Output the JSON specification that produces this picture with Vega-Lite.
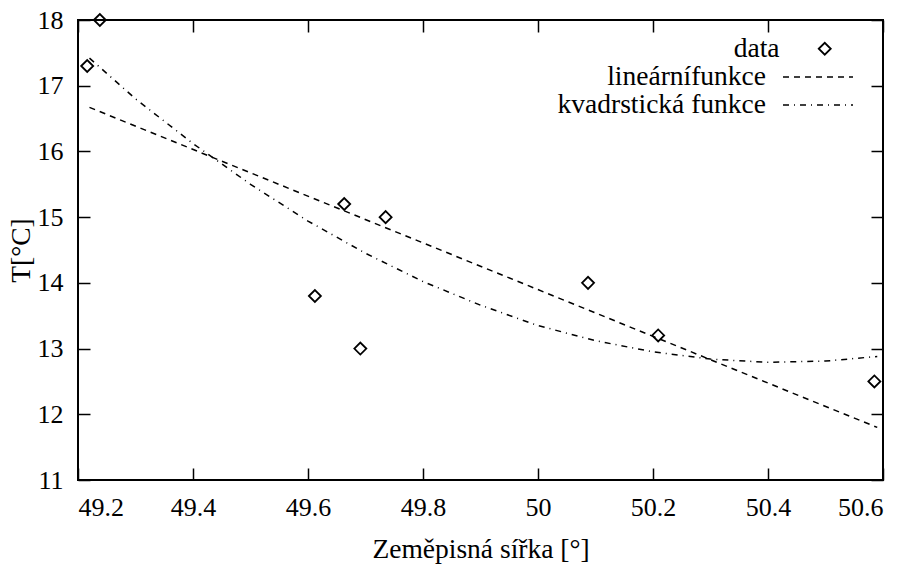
{
  "$schema": "https://vega.github.io/schema/vega-lite/v6.json",
  "width": 805,
  "height": 460,
  "autosize": {"type": "none"},
  "padding": {"left": 78, "top": 20, "right": 23, "bottom": 85},
  "background": "white",
  "config": {
    "font": "Liberation Serif",
    "view": {"stroke": "black", "strokeWidth": 2},
    "axis": {
      "domain": false,
      "grid": false,
      "ticks": true,
      "tickColor": "black",
      "tickWidth": 1.5,
      "tickSize": 12,
      "offset": -12,
      "labelFont": "Liberation Serif",
      "labelFontSize": 26,
      "labelColor": "black",
      "titleFont": "Liberation Serif",
      "titleFontSize": 27.5,
      "titleFontWeight": "normal",
      "titleColor": "black"
    },
    "legend": {
      "labelFont": "Liberation Serif",
      "labelFontSize": 27.5,
      "labelColor": "black",
      "labelLimit": 0
    }
  },
  "datasets": {
    "points": [
      {"lat": 49.216, "t": 17.3},
      {"lat": 49.238, "t": 18.0},
      {"lat": 49.612, "t": 13.8},
      {"lat": 49.663, "t": 15.2},
      {"lat": 49.691, "t": 13.0},
      {"lat": 49.735, "t": 15.0},
      {"lat": 50.087, "t": 14.0},
      {"lat": 50.209, "t": 13.2},
      {"lat": 50.585, "t": 12.5}
    ],
    "fits": [
      {"fn": "lineárnífunkce", "lat": 49.22, "t": 16.67},
      {"fn": "lineárnífunkce", "lat": 50.59, "t": 11.8},
      {"fn": "kvadrstická funkce", "lat": 49.22, "t": 17.42},
      {"fn": "kvadrstická funkce", "lat": 49.30, "t": 16.80},
      {"fn": "kvadrstická funkce", "lat": 49.40, "t": 16.12},
      {"fn": "kvadrstická funkce", "lat": 49.50, "t": 15.50},
      {"fn": "kvadrstická funkce", "lat": 49.60, "t": 14.94},
      {"fn": "kvadrstická funkce", "lat": 49.70, "t": 14.45},
      {"fn": "kvadrstická funkce", "lat": 49.80, "t": 14.02},
      {"fn": "kvadrstická funkce", "lat": 49.90, "t": 13.66},
      {"fn": "kvadrstická funkce", "lat": 50.00, "t": 13.35},
      {"fn": "kvadrstická funkce", "lat": 50.10, "t": 13.12},
      {"fn": "kvadrstická funkce", "lat": 50.20, "t": 12.95},
      {"fn": "kvadrstická funkce", "lat": 50.30, "t": 12.84},
      {"fn": "kvadrstická funkce", "lat": 50.40, "t": 12.79},
      {"fn": "kvadrstická funkce", "lat": 50.50, "t": 12.81},
      {"fn": "kvadrstická funkce", "lat": 50.59, "t": 12.88}
    ]
  },
  "layer": [
    {
      "data": {"name": "fits"},
      "transform": [{"filter": "datum.fn === 'lineárnífunkce'"}],
      "mark": {"type": "line", "color": "black", "strokeWidth": 1.5},
      "encoding": {
        "x": {
          "field": "lat", "type": "quantitative",
          "scale": {"domain": [49.2, 50.6], "nice": false, "zero": false},
          "axis": {
            "orient": "bottom",
            "values": [49.2, 49.4, 49.6, 49.8, 50, 50.2, 50.4, 50.6],
            "format": "~g",
            "tickSize": 0,
            "offset": 0,
            "labelPadding": 14,
            "title": "Zeměpisná sířka [°]",
            "titlePadding": 15
          }
        },
        "y": {
          "field": "t", "type": "quantitative",
          "scale": {"domain": [11, 18], "nice": false, "zero": false},
          "axis": {
            "orient": "left",
            "values": [11, 12, 13, 14, 15, 16, 17, 18],
            "format": "~g",
            "tickSize": 0,
            "offset": 0,
            "labelPadding": 15,
            "title": "T[°C]",
            "titlePadding": 2
          }
        },
        "strokeDash": {
          "datum": "lineárnífunkce",
          "scale": {"domain": ["lineárnífunkce"], "range": [[6, 5]]},
          "legend": {
            "orient": "none",
            "legendX": 704,
            "legendY": 21,
            "title": null,
            "padding": 0,
            "symbolType": "stroke",
            "symbolSize": 4900,
            "symbolStrokeWidth": 1.5,
            "symbolStrokeColor": "black",
            "labelAlign": "right",
            "labelOffset": -88
          }
        }
      }
    },
    {
      "data": {"name": "fits"},
      "transform": [{"filter": "datum.fn === 'kvadrstická funkce'"}],
      "mark": {"type": "line", "color": "black", "strokeWidth": 1.5},
      "encoding": {
        "x": {"field": "lat", "type": "quantitative", "axis": {"orient": "bottom", "values": [49.2, 49.4, 49.6, 49.8, 50, 50.2, 50.4, 50.6], "labels": false, "title": null}},
        "y": {"field": "t", "type": "quantitative", "axis": {"orient": "left", "values": [11, 12, 13, 14, 15, 16, 17, 18], "labels": false, "title": null}},
        "strokeDash": {
          "datum": "kvadrstická funkce",
          "scale": {"domain": ["kvadrstická funkce"], "range": [[6, 5, 1, 5]]},
          "legend": {
            "orient": "none",
            "legendX": 704,
            "legendY": 49,
            "title": null,
            "padding": 0,
            "symbolType": "stroke",
            "symbolSize": 4900,
            "symbolStrokeWidth": 1.5,
            "symbolStrokeColor": "black",
            "labelAlign": "right",
            "labelOffset": -88
          }
        }
      }
    },
    {
      "data": {"name": "points"},
      "mark": {"type": "point", "filled": false, "color": "black", "size": 144, "strokeWidth": 1.8, "opacity": 1},
      "encoding": {
        "x": {
          "field": "lat", "type": "quantitative",
          "axis": {"orient": "top", "values": [49.2, 49.4, 49.6, 49.8, 50, 50.2, 50.4, 50.6], "labels": false, "title": null}
        },
        "y": {
          "field": "t", "type": "quantitative",
          "axis": {"orient": "right", "values": [11, 12, 13, 14, 15, 16, 17, 18], "labels": false, "title": null}
        },
        "shape": {
          "datum": "data",
          "scale": {"domain": ["data"], "range": ["diamond"]},
          "legend": {
            "orient": "none",
            "legendX": 733,
            "legendY": 15,
            "title": null,
            "padding": 0,
            "symbolSize": 144,
            "symbolStrokeWidth": 1.8,
            "symbolStrokeColor": "black",
            "symbolFillColor": "transparent",
            "labelAlign": "right",
            "labelOffset": -59
          }
        }
      }
    }
  ],
  "resolve": {
    "axis": {"x": "independent", "y": "independent"},
    "scale": {"strokeDash": "independent"},
    "legend": {"strokeDash": "independent"}
  }
}
